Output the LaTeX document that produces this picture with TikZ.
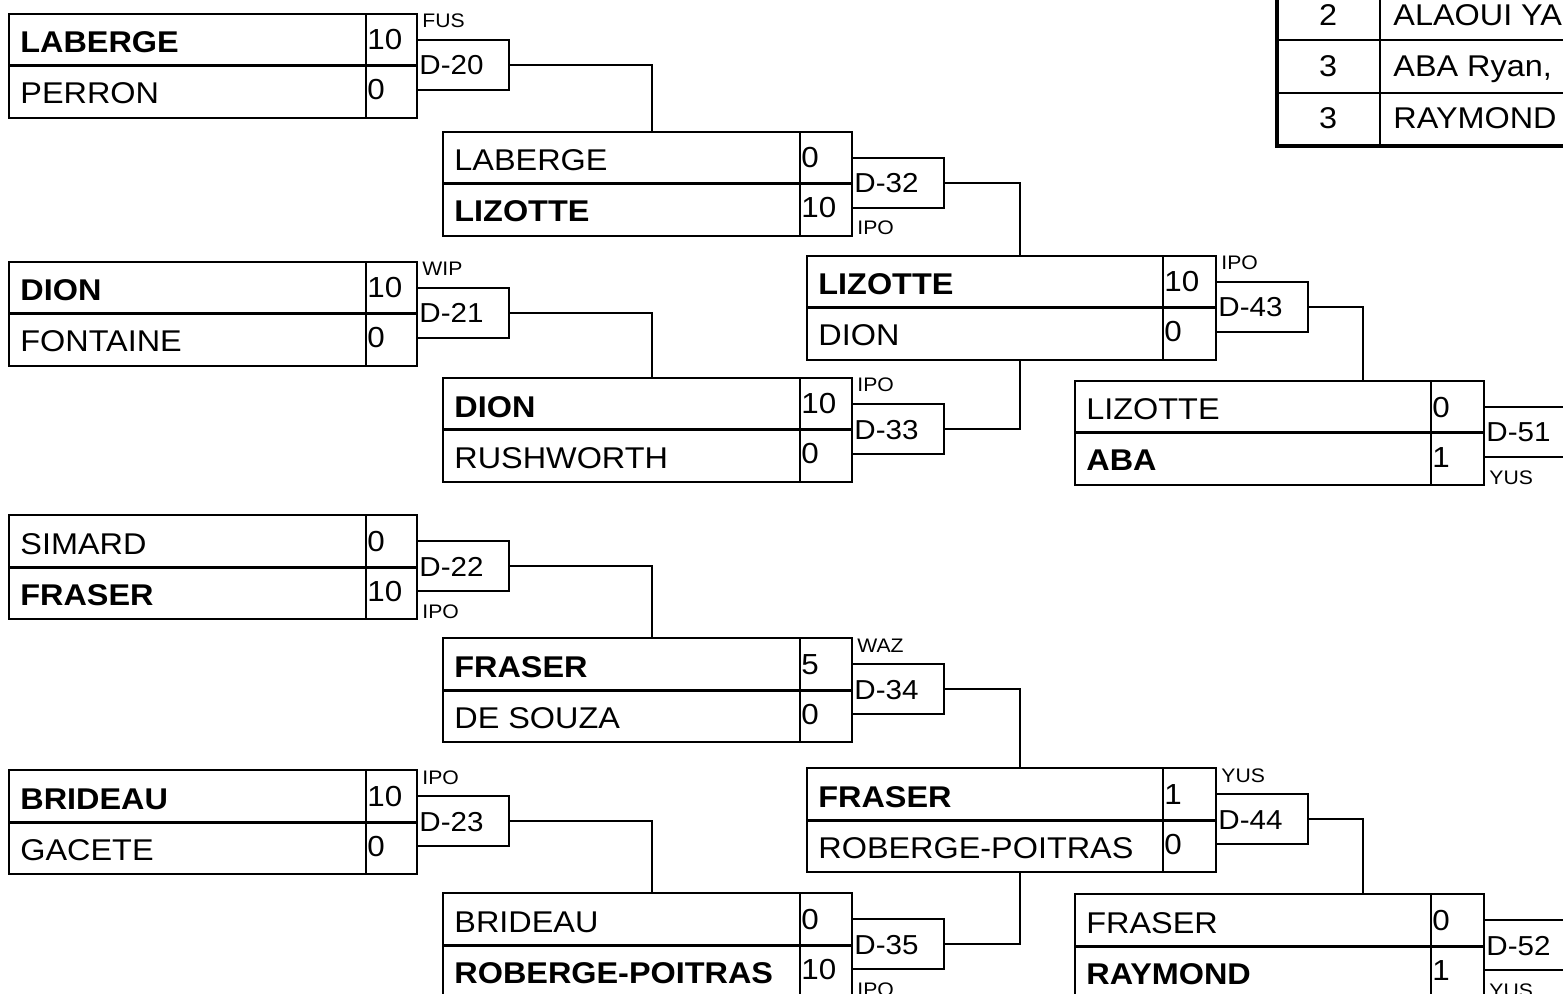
\documentclass[tikz,border=0pt]{standalone}
\usepackage{fontspec}
\setmainfont{Liberation Sans}[FakeStretch=1.08]
\usetikzlibrary{fit}
\tikzset{
 boxst/.style={draw, line width=1pt, inner sep=0pt},
 midst/.style={line width=1.5pt},
 divst/.style={line width=1pt},
 namest/.style={anchor=base west, inner sep=0pt, font=\fontsize{15}{18}\selectfont},
 scorest/.style={anchor=base west, inner sep=0pt, font=\fontsize{14.5}{17}\selectfont},
 dst/.style={anchor=base west, inner sep=0pt, font=\fontsize{13.7}{17}\selectfont},
 lblst/.style={anchor=base west, inner sep=0pt, font=\fontsize{9.8}{12}\selectfont},
 conn/.style={line width=1pt},
 tabtext/.style={anchor=base, inner sep=0pt, font=\fontsize{15}{18}\selectfont},
 tabname/.style={anchor=base west, inner sep=0pt, font=\fontsize{15}{18}\selectfont},
}
% #1 id, #2 top, #3 name1, #4 score1, #5 name2, #6 score2, #7 label, #8 a/b
\newcommand\mymatch[8]{%
 \pgfmathsetmacro\mT{#2}%
 \pgfmathsetmacro\mM{#2+52}%
 \pgfmathsetmacro\mB{#2+104}%
 \node[boxst, fit={(\rL,\mT) (\rR,\mB)}] (m#1) {};
 \draw[divst] (\rS,\mT) -- (\rS,\mB);
 \draw[midst] (\rL,\mM) -- (\rR,\mM);
 \node[namest] (m#1a) at (\rL+11,\mT+39) {#3};
 \node[namest] (m#1b) at (\rL+11,\mT+90) {#5};
 \node[scorest] (m#1sa) at (\rS+1,\mT+36) {#4};
 \node[scorest] (m#1sb) at (\rS+1,\mT+86) {#6};
 \node[boxst, fit={(\rR,\mM-26) (\rR+92,\mM+24)}] (d#1) {};
 \node[dst] (d#1t) at (\rR+2,\mM+9) {D-#1};
 \if a#8
  \node[lblst] (l#1) at (\rR+5,\mM-26-12) {#7};
 \else
  \node[lblst] (l#1) at (\rR+5,\mM+24+27) {#7};
 \fi
}
\begin{document}
\begin{tikzpicture}[x=0.5pt,y=-0.5pt]
\path[use as bounding box] (0,0) rectangle (1563,994);
\fill[white] (0,0) rectangle (1563,994);
\clip (0,0) rectangle (1563,994);

% round 1
\def\rL{9}\def\rS{366}\def\rR{417}
\mymatch{20}{14}{\textbf{LABERGE}}{10}{PERRON}{0}{FUS}{a}
\mymatch{21}{262}{\textbf{DION}}{10}{FONTAINE}{0}{WIP}{a}
\mymatch{22}{515}{SIMARD}{0}{\textbf{FRASER}}{10}{IPO}{b}
\mymatch{23}{770}{\textbf{BRIDEAU}}{10}{GACETE}{0}{IPO}{a}
% round 2
\def\rL{443}\def\rS{800}\def\rR{852}
\mymatch{32}{132}{LABERGE}{0}{\textbf{LIZOTTE}}{10}{IPO}{b}
\mymatch{33}{378}{\textbf{DION}}{10}{RUSHWORTH}{0}{IPO}{a}
\mymatch{34}{638}{\textbf{FRASER}}{5}{DE SOUZA}{0}{WAZ}{a}
\mymatch{35}{893}{BRIDEAU}{0}{\textbf{ROBERGE-POITRAS}}{10}{IPO}{b}
% round 3
\def\rL{807}\def\rS{1163}\def\rR{1216}
\mymatch{43}{256}{\textbf{LIZOTTE}}{10}{DION}{0}{IPO}{a}
\mymatch{44}{768}{\textbf{FRASER}}{1}{ROBERGE-POITRAS}{0}{YUS}{a}
% round 4
\def\rL{1075}\def\rS{1431}\def\rR{1484}
\mymatch{51}{381}{LIZOTTE}{0}{\textbf{ABA}}{1}{YUS}{b}
\mymatch{52}{894}{FRASER}{0}{\textbf{RAYMOND}}{1}{YUS}{b}

% connector columns
\coordinate (c1) at (652,0);
\coordinate (c2) at (1020,0);
\coordinate (c3) at (1363,0);
\draw[conn] (d20.east) -| (c1 |- m32.north);
\draw[conn] (d21.east) -| (c1 |- m33.north);
\draw[conn] (d22.east) -| (c1 |- m34.north);
\draw[conn] (d23.east) -| (c1 |- m35.north);
\draw[conn] (d32.east) -| (c2 |- m43.north);
\draw[conn] (d33.east) -| (c2 |- m43.south);
\draw[conn] (d34.east) -| (c2 |- m44.north);
\draw[conn] (d35.east) -| (c2 |- m44.south);
\draw[conn] (d43.east) -| (c3 |- m51.north);
\draw[conn] (d44.east) -| (c3 |- m52.north);

% ranking table
\draw[line width=1pt] (1380,-10) -- (1380,146);
\draw[line width=1pt] (1277,40) -- (1570,40);
\draw[line width=1pt] (1277,93) -- (1570,93);
\draw[line width=2pt] (1277,-10) -- (1277,146) -- (1570,146);
\node[tabtext] (r1) at (1328,26) {2};
\node[tabtext] (r2) at (1328,77) {3};
\node[tabtext] (r3) at (1328,129) {3};
\node[tabname] (p1) at (1393,26) {ALAOUI YA};
\node[tabname] (p2) at (1393,77) {ABA Ryan,};
\node[tabname] (p3) at (1393,129) {RAYMOND};
\end{tikzpicture}
\end{document}
